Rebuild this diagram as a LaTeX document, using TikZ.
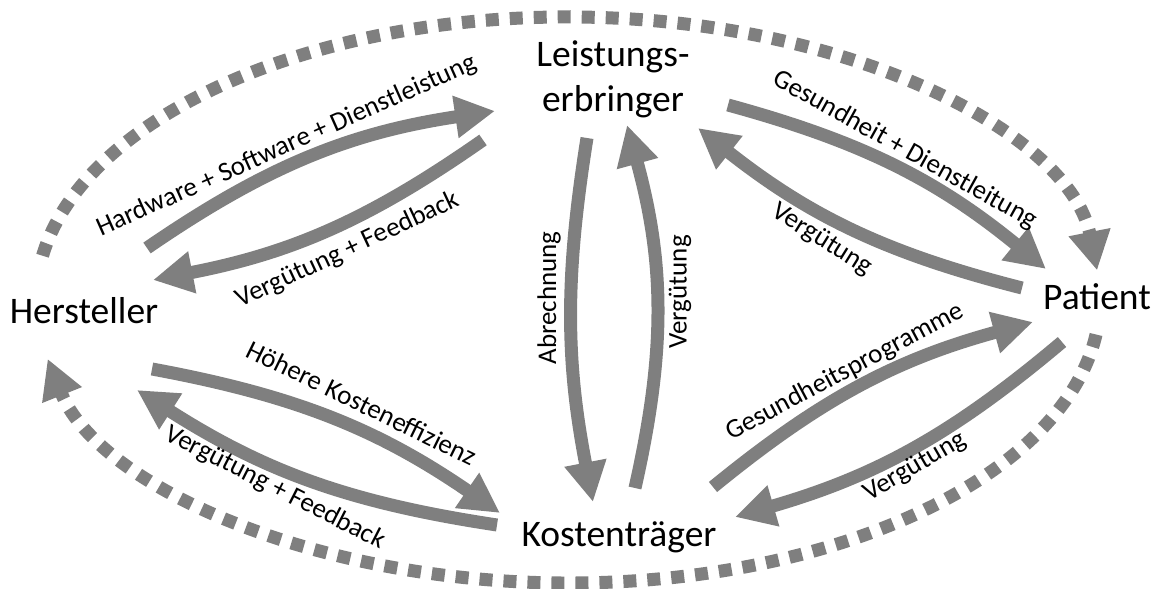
\documentclass[tikz,border=0pt]{standalone}
\usepackage{fontspec}
\setmainfont{Carlito}
\usetikzlibrary{arrows.meta}
\definecolor{flowgray}{RGB}{127,127,127}
\begin{document}
\begin{tikzpicture}[x=1pt,y=1pt,
  actor/.style={font=\fontsize{37.5}{45}\selectfont, inner sep=0pt, align=center},
  flow/.style={draw=flowgray, line width=13pt, -{Triangle[length=40pt,width=40pt]}},
  lbl/.style={font=\fontsize{27}{32}\selectfont, inner sep=0pt},
  loopline/.style={draw=flowgray, line width=13pt, dash pattern=on 13pt off 11pt,
    -{Triangle[length=39pt,width=40pt]}}
]
\useasboundingbox (0,0) rectangle (1157,589);

% actors
\node[actor] (le) at (613,510) {Leistungs-\\erbringer};
\node[actor, anchor=base] (he) at (84,265) {Hersteller};
\node[actor, anchor=base] (pa) at (1097,279) {Patient};
\node[actor, anchor=base] (ko) at (619,42) {Kostenträger};

% connector end points
\coordinate (hw-s) at (147,341);  \coordinate (hw-e) at (495,478);
\coordinate (vh-s) at (483,449);  \coordinate (vh-e) at (153,309);
\coordinate (ab-s) at (587,451);  \coordinate (ab-e) at (593,87);
\coordinate (vk-s) at (635,101);  \coordinate (vk-e) at (627,464);
\coordinate (gd-s) at (728,484);  \coordinate (gd-e) at (1046,320);
\coordinate (vp-s) at (1022,301); \coordinate (vp-e) at (698,461);
\coordinate (gp-s) at (713,102);  \coordinate (gp-e) at (1033,267);
\coordinate (vq-s) at (1062,247); \coordinate (vq-e) at (735,72);
\coordinate (hk-s) at (152,220);  \coordinate (hk-e) at (500,76);
\coordinate (vf-s) at (497,64);   \coordinate (vf-e) at (137,199);
\coordinate (ell) at (568,289);

% flows between the actors
\draw[flow] (hw-s) to[bend left=13] (hw-e);
\draw[flow] (vh-s) to[bend left=12] (vh-e);
\draw[flow] (ab-s) to[bend right=10] (ab-e);
\draw[flow] (vk-s) to[bend right=14] (vk-e);
\draw[flow] (gd-s) to[bend left=12] (gd-e);
\draw[flow] (vp-s) to[bend left=12] (vp-e);
\draw[flow] (gp-s) to[bend left=12] (gp-e);
\draw[flow] (vq-s) to[bend left=12] (vq-e);
\draw[flow] (hk-s) to[bend left=12] (hk-e);
\draw[flow] (vf-s) to[bend left=12] (vf-e);

% outer cycle
\draw[loopline] (ell) ++(171:532 and 283)
  arc[start angle=171, end angle=6, x radius=532, y radius=283];
\draw[loopline] (ell) ++(-7:532 and 283)
  arc[start angle=-7, end angle=-168, x radius=532, y radius=283];

% flow labels
\node[lbl, rotate=24]  (t1)  at (287,443) {Hardware + Software + Dienstleistung};
\node[lbl, rotate=25]  (t2)  at (348,339) {Vergütung + Feedback};
\node[lbl, rotate=90]  (t3)  at (549,291) {Abrechnung};
\node[lbl, rotate=90]  (t4)  at (680,297) {Vergütung};
\node[lbl, rotate=-29] (t5)  at (905,439) {Gesundheit + Dienstleitung};
\node[lbl, rotate=-32] (t6)  at (822,349) {Vergütung};
\node[lbl, rotate=28]  (t7)  at (845,217) {Gesundheitsprogramme};
\node[lbl, rotate=30]  (t8)  at (915,122) {Vergütung};
\node[lbl, rotate=-26] (t9)  at (362,186) {Höhere Kosteneffizienz};
\node[lbl, rotate=-27] (t10) at (275,101) {Vergütung + Feedback};
\end{tikzpicture}
\end{document}
